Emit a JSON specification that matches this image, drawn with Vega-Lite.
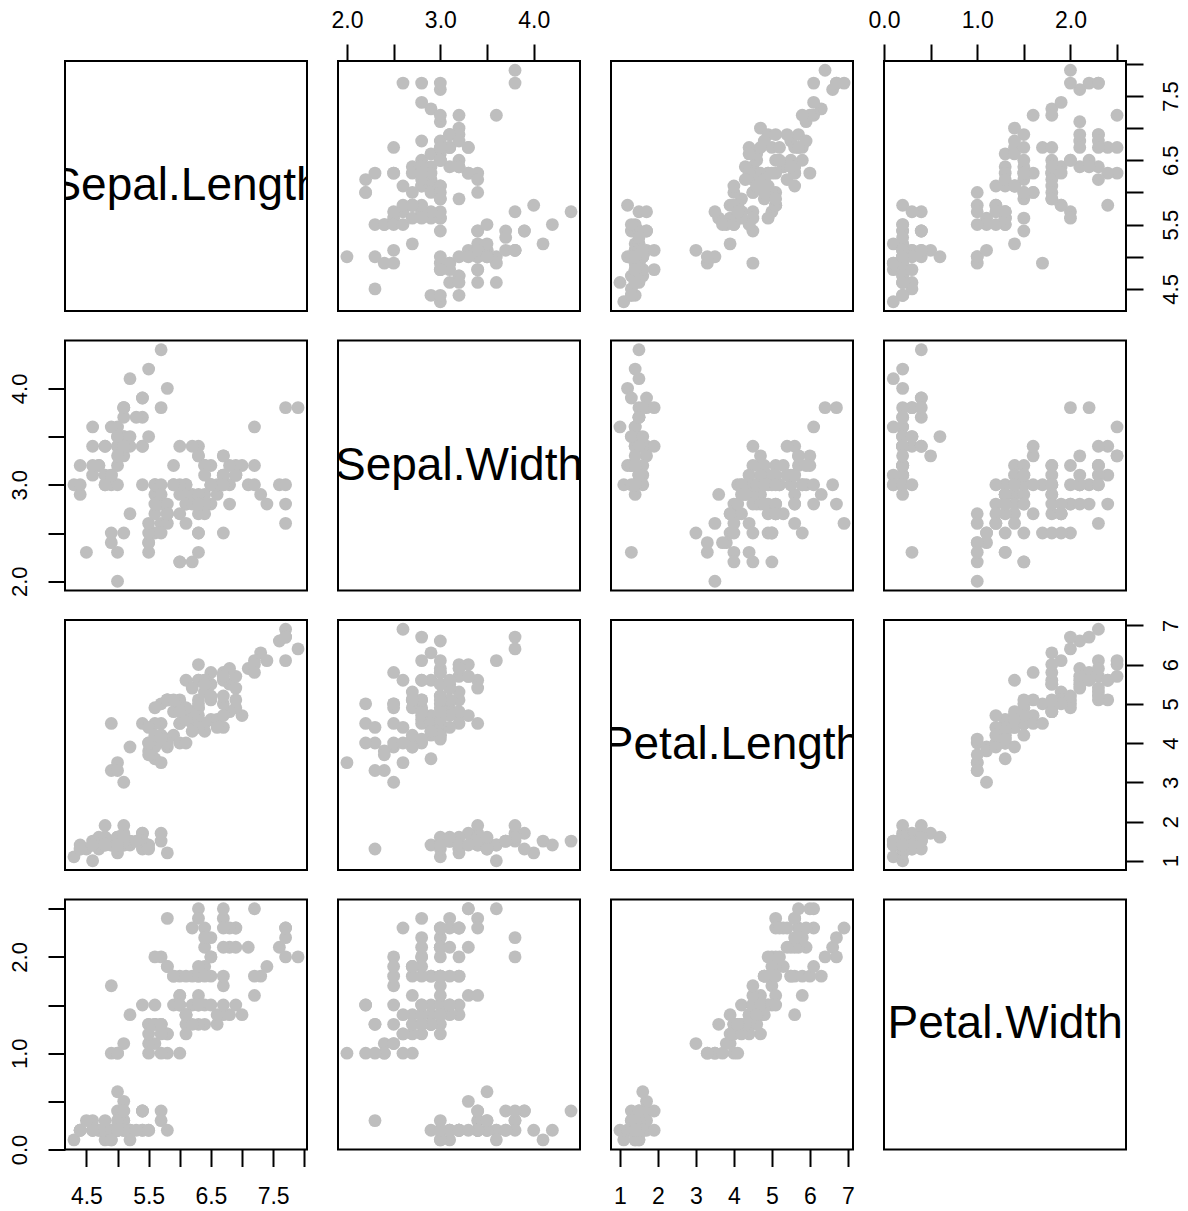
{
  "$schema": "https://vega.github.io/schema/vega-lite/v6.json",
  "background": "white",
  "padding": {"left": 6, "top": 8, "right": 5, "bottom": 5},
  "datasets": {
    "iris": [
      {"sl":5.1,"sw":3.5,"pl":1.4,"pw":0.2},{"sl":4.9,"sw":3.0,"pl":1.4,"pw":0.2},{"sl":4.7,"sw":3.2,"pl":1.3,"pw":0.2},{"sl":4.6,"sw":3.1,"pl":1.5,"pw":0.2},{"sl":5.0,"sw":3.6,"pl":1.4,"pw":0.2},
      {"sl":5.4,"sw":3.9,"pl":1.7,"pw":0.4},{"sl":4.6,"sw":3.4,"pl":1.4,"pw":0.3},{"sl":5.0,"sw":3.4,"pl":1.5,"pw":0.2},{"sl":4.4,"sw":2.9,"pl":1.4,"pw":0.2},{"sl":4.9,"sw":3.1,"pl":1.5,"pw":0.1},
      {"sl":5.4,"sw":3.7,"pl":1.5,"pw":0.2},{"sl":4.8,"sw":3.4,"pl":1.6,"pw":0.2},{"sl":4.8,"sw":3.0,"pl":1.4,"pw":0.1},{"sl":4.3,"sw":3.0,"pl":1.1,"pw":0.1},{"sl":5.8,"sw":4.0,"pl":1.2,"pw":0.2},
      {"sl":5.7,"sw":4.4,"pl":1.5,"pw":0.4},{"sl":5.4,"sw":3.9,"pl":1.3,"pw":0.4},{"sl":5.1,"sw":3.5,"pl":1.4,"pw":0.3},{"sl":5.7,"sw":3.8,"pl":1.7,"pw":0.3},{"sl":5.1,"sw":3.8,"pl":1.5,"pw":0.3},
      {"sl":5.4,"sw":3.4,"pl":1.7,"pw":0.2},{"sl":5.1,"sw":3.7,"pl":1.5,"pw":0.4},{"sl":4.6,"sw":3.6,"pl":1.0,"pw":0.2},{"sl":5.1,"sw":3.3,"pl":1.7,"pw":0.5},{"sl":4.8,"sw":3.4,"pl":1.9,"pw":0.2},
      {"sl":5.0,"sw":3.0,"pl":1.6,"pw":0.2},{"sl":5.0,"sw":3.4,"pl":1.6,"pw":0.4},{"sl":5.2,"sw":3.5,"pl":1.5,"pw":0.2},{"sl":5.2,"sw":3.4,"pl":1.4,"pw":0.2},{"sl":4.7,"sw":3.2,"pl":1.6,"pw":0.2},
      {"sl":4.8,"sw":3.1,"pl":1.6,"pw":0.2},{"sl":5.4,"sw":3.4,"pl":1.5,"pw":0.4},{"sl":5.2,"sw":4.1,"pl":1.5,"pw":0.1},{"sl":5.5,"sw":4.2,"pl":1.4,"pw":0.2},{"sl":4.9,"sw":3.1,"pl":1.5,"pw":0.2},
      {"sl":5.0,"sw":3.2,"pl":1.2,"pw":0.2},{"sl":5.5,"sw":3.5,"pl":1.3,"pw":0.2},{"sl":4.9,"sw":3.6,"pl":1.4,"pw":0.1},{"sl":4.4,"sw":3.0,"pl":1.3,"pw":0.2},{"sl":5.1,"sw":3.4,"pl":1.5,"pw":0.2},
      {"sl":5.0,"sw":3.5,"pl":1.3,"pw":0.3},{"sl":4.5,"sw":2.3,"pl":1.3,"pw":0.3},{"sl":4.4,"sw":3.2,"pl":1.3,"pw":0.2},{"sl":5.0,"sw":3.5,"pl":1.6,"pw":0.6},{"sl":5.1,"sw":3.8,"pl":1.9,"pw":0.4},
      {"sl":4.8,"sw":3.0,"pl":1.4,"pw":0.3},{"sl":5.1,"sw":3.8,"pl":1.6,"pw":0.2},{"sl":4.6,"sw":3.2,"pl":1.4,"pw":0.2},{"sl":5.3,"sw":3.7,"pl":1.5,"pw":0.2},{"sl":5.0,"sw":3.3,"pl":1.4,"pw":0.2},
      {"sl":7.0,"sw":3.2,"pl":4.7,"pw":1.4},{"sl":6.4,"sw":3.2,"pl":4.5,"pw":1.5},{"sl":6.9,"sw":3.1,"pl":4.9,"pw":1.5},{"sl":5.5,"sw":2.3,"pl":4.0,"pw":1.3},{"sl":6.5,"sw":2.8,"pl":4.6,"pw":1.5},
      {"sl":5.7,"sw":2.8,"pl":4.5,"pw":1.3},{"sl":6.3,"sw":3.3,"pl":4.7,"pw":1.6},{"sl":4.9,"sw":2.4,"pl":3.3,"pw":1.0},{"sl":6.6,"sw":2.9,"pl":4.6,"pw":1.3},{"sl":5.2,"sw":2.7,"pl":3.9,"pw":1.4},
      {"sl":5.0,"sw":2.0,"pl":3.5,"pw":1.0},{"sl":5.9,"sw":3.0,"pl":4.2,"pw":1.5},{"sl":6.0,"sw":2.2,"pl":4.0,"pw":1.0},{"sl":6.1,"sw":2.9,"pl":4.7,"pw":1.4},{"sl":5.6,"sw":2.9,"pl":3.6,"pw":1.3},
      {"sl":6.7,"sw":3.1,"pl":4.4,"pw":1.4},{"sl":5.6,"sw":3.0,"pl":4.5,"pw":1.5},{"sl":5.8,"sw":2.7,"pl":4.1,"pw":1.0},{"sl":6.2,"sw":2.2,"pl":4.5,"pw":1.5},{"sl":5.6,"sw":2.5,"pl":3.9,"pw":1.1},
      {"sl":5.9,"sw":3.2,"pl":4.8,"pw":1.8},{"sl":6.1,"sw":2.8,"pl":4.0,"pw":1.3},{"sl":6.3,"sw":2.5,"pl":4.9,"pw":1.5},{"sl":6.1,"sw":2.8,"pl":4.7,"pw":1.2},{"sl":6.4,"sw":2.9,"pl":4.3,"pw":1.3},
      {"sl":6.6,"sw":3.0,"pl":4.4,"pw":1.4},{"sl":6.8,"sw":2.8,"pl":4.8,"pw":1.4},{"sl":6.7,"sw":3.0,"pl":5.0,"pw":1.7},{"sl":6.0,"sw":2.9,"pl":4.5,"pw":1.5},{"sl":5.7,"sw":2.6,"pl":3.5,"pw":1.0},
      {"sl":5.5,"sw":2.4,"pl":3.8,"pw":1.1},{"sl":5.5,"sw":2.4,"pl":3.7,"pw":1.0},{"sl":5.8,"sw":2.7,"pl":3.9,"pw":1.2},{"sl":6.0,"sw":2.7,"pl":5.1,"pw":1.6},{"sl":5.4,"sw":3.0,"pl":4.5,"pw":1.5},
      {"sl":6.0,"sw":3.4,"pl":4.5,"pw":1.6},{"sl":6.7,"sw":3.1,"pl":4.7,"pw":1.5},{"sl":6.3,"sw":2.3,"pl":4.4,"pw":1.3},{"sl":5.6,"sw":3.0,"pl":4.1,"pw":1.3},{"sl":5.5,"sw":2.5,"pl":4.0,"pw":1.3},
      {"sl":5.5,"sw":2.6,"pl":4.4,"pw":1.2},{"sl":6.1,"sw":3.0,"pl":4.6,"pw":1.4},{"sl":5.8,"sw":2.6,"pl":4.0,"pw":1.2},{"sl":5.0,"sw":2.3,"pl":3.3,"pw":1.0},{"sl":5.6,"sw":2.7,"pl":4.2,"pw":1.3},
      {"sl":5.7,"sw":3.0,"pl":4.2,"pw":1.2},{"sl":5.7,"sw":2.9,"pl":4.2,"pw":1.3},{"sl":6.2,"sw":2.9,"pl":4.3,"pw":1.3},{"sl":5.1,"sw":2.5,"pl":3.0,"pw":1.1},{"sl":5.7,"sw":2.8,"pl":4.1,"pw":1.3},
      {"sl":6.3,"sw":3.3,"pl":6.0,"pw":2.5},{"sl":5.8,"sw":2.7,"pl":5.1,"pw":1.9},{"sl":7.1,"sw":3.0,"pl":5.9,"pw":2.1},{"sl":6.3,"sw":2.9,"pl":5.6,"pw":1.8},{"sl":6.5,"sw":3.0,"pl":5.8,"pw":2.2},
      {"sl":7.6,"sw":3.0,"pl":6.6,"pw":2.1},{"sl":4.9,"sw":2.5,"pl":4.5,"pw":1.7},{"sl":7.3,"sw":2.9,"pl":6.3,"pw":1.8},{"sl":6.7,"sw":2.5,"pl":5.8,"pw":1.8},{"sl":7.2,"sw":3.6,"pl":6.1,"pw":2.5},
      {"sl":6.5,"sw":3.2,"pl":5.1,"pw":2.0},{"sl":6.4,"sw":2.7,"pl":5.3,"pw":1.9},{"sl":6.8,"sw":3.0,"pl":5.5,"pw":2.1},{"sl":5.7,"sw":2.5,"pl":5.0,"pw":2.0},{"sl":5.8,"sw":2.8,"pl":5.1,"pw":2.4},
      {"sl":6.4,"sw":3.2,"pl":5.3,"pw":2.3},{"sl":6.5,"sw":3.0,"pl":5.5,"pw":1.8},{"sl":7.7,"sw":3.8,"pl":6.7,"pw":2.2},{"sl":7.7,"sw":2.6,"pl":6.9,"pw":2.3},{"sl":6.0,"sw":2.2,"pl":5.0,"pw":1.5},
      {"sl":6.9,"sw":3.2,"pl":5.7,"pw":2.3},{"sl":5.6,"sw":2.8,"pl":4.9,"pw":2.0},{"sl":7.7,"sw":2.8,"pl":6.7,"pw":2.0},{"sl":6.3,"sw":2.7,"pl":4.9,"pw":1.8},{"sl":6.7,"sw":3.3,"pl":5.7,"pw":2.1},
      {"sl":7.2,"sw":3.2,"pl":6.0,"pw":1.8},{"sl":6.2,"sw":2.8,"pl":4.8,"pw":1.8},{"sl":6.1,"sw":3.0,"pl":4.9,"pw":1.8},{"sl":6.4,"sw":2.8,"pl":5.6,"pw":2.1},{"sl":7.2,"sw":3.0,"pl":5.8,"pw":1.6},
      {"sl":7.4,"sw":2.8,"pl":6.1,"pw":1.9},{"sl":7.9,"sw":3.8,"pl":6.4,"pw":2.0},{"sl":6.4,"sw":2.8,"pl":5.6,"pw":2.2},{"sl":6.3,"sw":2.8,"pl":5.1,"pw":1.5},{"sl":6.1,"sw":2.6,"pl":5.6,"pw":1.4},
      {"sl":7.7,"sw":3.0,"pl":6.1,"pw":2.3},{"sl":6.3,"sw":3.4,"pl":5.6,"pw":2.4},{"sl":6.4,"sw":3.1,"pl":5.5,"pw":1.8},{"sl":6.0,"sw":3.0,"pl":4.8,"pw":1.8},{"sl":6.9,"sw":3.1,"pl":5.4,"pw":2.1},
      {"sl":6.7,"sw":3.1,"pl":5.6,"pw":2.4},{"sl":6.9,"sw":3.1,"pl":5.1,"pw":2.3},{"sl":5.8,"sw":2.7,"pl":5.1,"pw":1.9},{"sl":6.8,"sw":3.2,"pl":5.9,"pw":2.3},{"sl":6.7,"sw":3.3,"pl":5.7,"pw":2.5},
      {"sl":6.7,"sw":3.0,"pl":5.2,"pw":2.3},{"sl":6.3,"sw":2.5,"pl":5.0,"pw":1.9},{"sl":6.5,"sw":3.0,"pl":5.2,"pw":2.0},{"sl":6.2,"sw":3.4,"pl":5.4,"pw":2.3},{"sl":5.9,"sw":3.0,"pl":5.1,"pw":1.8}
    ]
  },
  "columns": 4,
  "spacing": {"row": 29.5, "column": 31},
  "bounds": "flush",
  "concat": [
    {
      "width": 242, "height": 250,
      "data": {"values": [{"name": "Sepal.Length", "mid": 6.1}]},
      "mark": {"type": "text", "font": "Liberation Sans", "fontSize": 46, "align": "center", "baseline": "middle", "color": "black", "clip": true},
      "encoding": {
        "x": {"field": "mid", "type": "quantitative", "scale": {"domain": [4.156, 8.044], "nice": false, "zero": false}, "axis": null},
        "y": {"field": "mid", "type": "quantitative", "scale": {"domain": [4.156, 8.044], "nice": false, "zero": false}, "axis": null},
        "text": {"field": "name"}
      }
    },
    {
      "width": 242, "height": 250,
      "data": {"name": "iris"},
      "mark": {"type": "circle", "size": 165, "color": "#bebebe", "opacity": 1},
      "encoding": {
        "x": {"field": "sw", "type": "quantitative", "scale": {"domain": [1.904, 4.496], "nice": false, "zero": false},
              "axis": {"orient": "top", "values": [2, 2.5, 3, 3.5, 4], "format": ".1f", "labelExpr": "datum.value % 1 == 0 ? datum.label : ''"}},
        "y": {"field": "sl", "type": "quantitative", "scale": {"domain": [4.156, 8.044], "nice": false, "zero": false}, "axis": null}
      }
    },
    {
      "width": 242, "height": 250,
      "data": {"name": "iris"},
      "mark": {"type": "circle", "size": 165, "color": "#bebebe", "opacity": 1},
      "encoding": {
        "x": {"field": "pl", "type": "quantitative", "scale": {"domain": [0.764, 7.136], "nice": false, "zero": false}, "axis": null},
        "y": {"field": "sl", "type": "quantitative", "scale": {"domain": [4.156, 8.044], "nice": false, "zero": false}, "axis": null}
      }
    },
    {
      "width": 242, "height": 250,
      "data": {"name": "iris"},
      "mark": {"type": "circle", "size": 165, "color": "#bebebe", "opacity": 1},
      "encoding": {
        "x": {"field": "pw", "type": "quantitative", "scale": {"domain": [0, 2.596], "nice": false, "zero": false},
              "axis": {"orient": "top", "values": [0, 0.5, 1, 1.5, 2, 2.5], "format": ".1f", "labelExpr": "datum.value % 1 == 0 ? datum.label : ''"}},
        "y": {"field": "sl", "type": "quantitative", "scale": {"domain": [4.156, 8.044], "nice": false, "zero": false},
              "axis": {"orient": "right", "values": [4.5, 5, 5.5, 6, 6.5, 7, 7.5, 8], "format": ".1f", "labelExpr": "datum.value % 1 == 0.5 ? datum.label : ''"}}
      }
    },
    {
      "width": 242, "height": 250,
      "data": {"name": "iris"},
      "mark": {"type": "circle", "size": 165, "color": "#bebebe", "opacity": 1},
      "encoding": {
        "x": {"field": "sl", "type": "quantitative", "scale": {"domain": [4.156, 8.044], "nice": false, "zero": false}, "axis": null},
        "y": {"field": "sw", "type": "quantitative", "scale": {"domain": [1.904, 4.496], "nice": false, "zero": false},
              "axis": {"orient": "left", "values": [2, 2.5, 3, 3.5, 4], "format": ".1f", "labelExpr": "datum.value % 1 == 0 ? datum.label : ''"}}
      }
    },
    {
      "width": 242, "height": 250,
      "data": {"values": [{"name": "Sepal.Width", "mid": 3.2}]},
      "mark": {"type": "text", "font": "Liberation Sans", "fontSize": 46, "align": "center", "baseline": "middle", "color": "black", "clip": true},
      "encoding": {
        "x": {"field": "mid", "type": "quantitative", "scale": {"domain": [1.904, 4.496], "nice": false, "zero": false}, "axis": null},
        "y": {"field": "mid", "type": "quantitative", "scale": {"domain": [1.904, 4.496], "nice": false, "zero": false}, "axis": null},
        "text": {"field": "name"}
      }
    },
    {
      "width": 242, "height": 250,
      "data": {"name": "iris"},
      "mark": {"type": "circle", "size": 165, "color": "#bebebe", "opacity": 1},
      "encoding": {
        "x": {"field": "pl", "type": "quantitative", "scale": {"domain": [0.764, 7.136], "nice": false, "zero": false}, "axis": null},
        "y": {"field": "sw", "type": "quantitative", "scale": {"domain": [1.904, 4.496], "nice": false, "zero": false}, "axis": null}
      }
    },
    {
      "width": 242, "height": 250,
      "data": {"name": "iris"},
      "mark": {"type": "circle", "size": 165, "color": "#bebebe", "opacity": 1},
      "encoding": {
        "x": {"field": "pw", "type": "quantitative", "scale": {"domain": [0, 2.596], "nice": false, "zero": false}, "axis": null},
        "y": {"field": "sw", "type": "quantitative", "scale": {"domain": [1.904, 4.496], "nice": false, "zero": false}, "axis": null}
      }
    },
    {
      "width": 242, "height": 250,
      "data": {"name": "iris"},
      "mark": {"type": "circle", "size": 165, "color": "#bebebe", "opacity": 1},
      "encoding": {
        "x": {"field": "sl", "type": "quantitative", "scale": {"domain": [4.156, 8.044], "nice": false, "zero": false}, "axis": null},
        "y": {"field": "pl", "type": "quantitative", "scale": {"domain": [0.764, 7.136], "nice": false, "zero": false}, "axis": null}
      }
    },
    {
      "width": 242, "height": 250,
      "data": {"name": "iris"},
      "mark": {"type": "circle", "size": 165, "color": "#bebebe", "opacity": 1},
      "encoding": {
        "x": {"field": "sw", "type": "quantitative", "scale": {"domain": [1.904, 4.496], "nice": false, "zero": false}, "axis": null},
        "y": {"field": "pl", "type": "quantitative", "scale": {"domain": [0.764, 7.136], "nice": false, "zero": false}, "axis": null}
      }
    },
    {
      "width": 242, "height": 250,
      "data": {"values": [{"name": "Petal.Length", "mid": 3.95}]},
      "mark": {"type": "text", "font": "Liberation Sans", "fontSize": 46, "align": "center", "baseline": "middle", "color": "black", "clip": true},
      "encoding": {
        "x": {"field": "mid", "type": "quantitative", "scale": {"domain": [0.764, 7.136], "nice": false, "zero": false}, "axis": null},
        "y": {"field": "mid", "type": "quantitative", "scale": {"domain": [0.764, 7.136], "nice": false, "zero": false}, "axis": null},
        "text": {"field": "name"}
      }
    },
    {
      "width": 242, "height": 250,
      "data": {"name": "iris"},
      "mark": {"type": "circle", "size": 165, "color": "#bebebe", "opacity": 1},
      "encoding": {
        "x": {"field": "pw", "type": "quantitative", "scale": {"domain": [0, 2.596], "nice": false, "zero": false}, "axis": null},
        "y": {"field": "pl", "type": "quantitative", "scale": {"domain": [0.764, 7.136], "nice": false, "zero": false},
              "axis": {"orient": "right", "values": [1, 2, 3, 4, 5, 6, 7], "format": "d"}}
      }
    },
    {
      "width": 242, "height": 250,
      "data": {"name": "iris"},
      "mark": {"type": "circle", "size": 165, "color": "#bebebe", "opacity": 1},
      "encoding": {
        "x": {"field": "sl", "type": "quantitative", "scale": {"domain": [4.156, 8.044], "nice": false, "zero": false},
              "axis": {"orient": "bottom", "values": [4.5, 5, 5.5, 6, 6.5, 7, 7.5, 8], "format": ".1f", "labelExpr": "datum.value % 1 == 0.5 ? datum.label : ''"}},
        "y": {"field": "pw", "type": "quantitative", "scale": {"domain": [0, 2.596], "nice": false, "zero": false},
              "axis": {"orient": "left", "values": [0, 0.5, 1, 1.5, 2, 2.5], "format": ".1f", "labelExpr": "datum.value % 1 == 0 ? datum.label : ''"}}
      }
    },
    {
      "width": 242, "height": 250,
      "data": {"name": "iris"},
      "mark": {"type": "circle", "size": 165, "color": "#bebebe", "opacity": 1},
      "encoding": {
        "x": {"field": "sw", "type": "quantitative", "scale": {"domain": [1.904, 4.496], "nice": false, "zero": false}, "axis": null},
        "y": {"field": "pw", "type": "quantitative", "scale": {"domain": [0, 2.596], "nice": false, "zero": false}, "axis": null}
      }
    },
    {
      "width": 242, "height": 250,
      "data": {"name": "iris"},
      "mark": {"type": "circle", "size": 165, "color": "#bebebe", "opacity": 1},
      "encoding": {
        "x": {"field": "pl", "type": "quantitative", "scale": {"domain": [0.764, 7.136], "nice": false, "zero": false},
              "axis": {"orient": "bottom", "values": [1, 2, 3, 4, 5, 6, 7], "format": "d"}},
        "y": {"field": "pw", "type": "quantitative", "scale": {"domain": [0, 2.596], "nice": false, "zero": false}, "axis": null}
      }
    },
    {
      "width": 242, "height": 250,
      "data": {"values": [{"name": "Petal.Width", "mid": 1.3}]},
      "mark": {"type": "text", "font": "Liberation Sans", "fontSize": 46, "align": "center", "baseline": "middle", "color": "black", "clip": true},
      "encoding": {
        "x": {"field": "mid", "type": "quantitative", "scale": {"domain": [0, 2.596], "nice": false, "zero": false}, "axis": null},
        "y": {"field": "mid", "type": "quantitative", "scale": {"domain": [0, 2.596], "nice": false, "zero": false}, "axis": null},
        "text": {"field": "name"}
      }
    }
  ],
  "config": {
    "view": {"stroke": "black", "strokeWidth": 2, "fill": null},
    "axis": {
      "domain": false, "grid": false, "ticks": true,
      "tickColor": "black", "tickWidth": 2, "tickSize": 17,
      "labelFont": "Liberation Sans", "labelFontSize": 21, "labelColor": "black",
      "labelOverlap": false, "labelFlush": false, "title": null
    },
    "axisTop": {"labelPadding": 12, "labelFontSize": 23},
    "axisBottom": {"labelPadding": 19, "labelBaseline": "top", "labelFontSize": 23},
    "axisLeft": {"labelAngle": -90, "labelAlign": "center", "labelBaseline": "bottom", "labelPadding": 17, "labelFontSize": 22},
    "axisRight": {"labelAngle": -90, "labelAlign": "center", "labelBaseline": "top", "labelPadding": 17, "labelFontSize": 22}
  }
}
